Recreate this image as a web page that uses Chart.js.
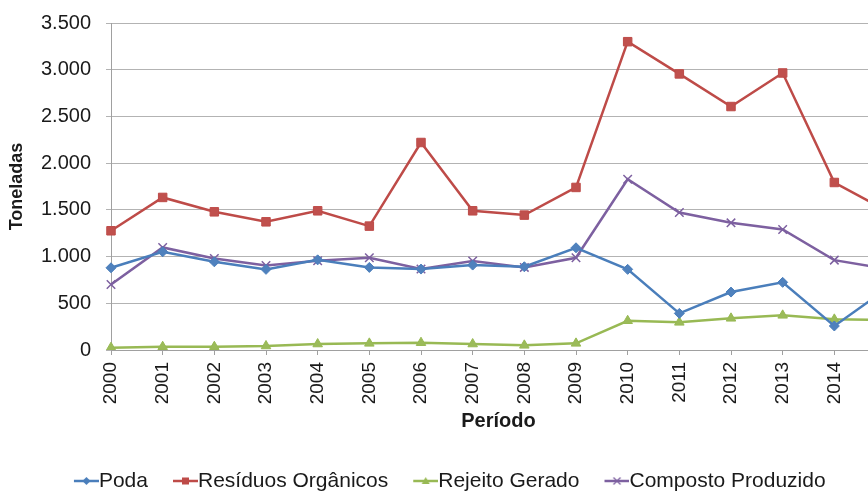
<!DOCTYPE html>
<html>
<head>
<meta charset="utf-8">
<script src="https://cdn.jsdelivr.net/npm/chart.js@4.4.1/dist/chart.umd.min.js"></script>
<style>
  html, body { margin: 0; padding: 0; background: #fff; overflow: hidden; }
  canvas { display: block; }
</style>
</head>
<body>
<canvas id="residuosChart" width="898" height="492"></canvas>
<script>
const anos = ['2000', '2001', '2002', '2003', '2004', '2005', '2006', '2007',
              '2008', '2009', '2010', '2011', '2012', '2013', '2014', '2015'];
const poda      = [880, 1051, 944, 863, 965, 884, 866, 909, 891, 1094, 863, 392, 620, 724, 257, 651];
const residuos  = [1276, 1633, 1479, 1372, 1490, 1326, 2221, 1490, 1444, 1740, 3300, 2955, 2606, 2965, 1793, 1495];
const rejeito   = [25, 35, 35, 43, 64, 71, 78, 64, 50, 71, 313, 296, 339, 371, 328, 321];
const composto  = [702, 1098, 980, 905, 955, 987, 866, 952, 884, 987, 1827, 1472, 1361, 1290, 962, 870];
const yMax = 3500;
const yStep = 500;

Chart.defaults.font.family = '"Liberation Sans", Arial, sans-serif';
Chart.defaults.color = '#1a1a1a';

// small line+marker pictures for the legend, like the spreadsheet legend
function legendIcon(shape, color) {
    const c = document.createElement('canvas');
    c.width = 37;
    c.height = 14;
    const g = c.getContext('2d');
    g.strokeStyle = color;
    g.fillStyle = color;
    g.lineWidth = 2.5;
    g.beginPath();
    g.moveTo(12, 7);
    g.lineTo(37, 7);
    g.stroke();
    const x = 24.5, y = 7;
    g.beginPath();
    if (shape === 'diamond') {
        g.moveTo(x, y - 4); g.lineTo(x + 4, y); g.lineTo(x, y + 4); g.lineTo(x - 4, y);
        g.closePath(); g.fill();
    } else if (shape === 'square') {
        g.fillRect(x - 3.5, y - 3.5, 7, 7);
    } else if (shape === 'triangle') {
        g.moveTo(x, y - 4); g.lineTo(x + 4, y + 3); g.lineTo(x - 4, y + 3);
        g.closePath(); g.fill();
    } else {
        g.lineWidth = 1.2;
        g.moveTo(x - 3.5, y - 3.5); g.lineTo(x + 3.5, y + 3.5);
        g.moveTo(x + 3.5, y - 3.5); g.lineTo(x - 3.5, y + 3.5);
        g.stroke();
    }
    return c;
}

const icons = [
    legendIcon('diamond', '#4A7EBB'),
    legendIcon('square', '#BE4B48'),
    legendIcon('triangle', '#98B954'),
    legendIcon('cross', '#7D60A0')
];

function noPadding(scale) {
    scale.paddingTop = 0;
    scale.paddingBottom = 0;
    scale.paddingLeft = 0;
    scale.paddingRight = 0;
}

const ctx = document.getElementById('residuosChart').getContext('2d');
new Chart(ctx, {
    type: 'line',
    data: {
        labels: anos,
        datasets: [{
            label: 'Poda',
            data: poda,
            borderColor: '#4A7EBB',
            backgroundColor: '#4F81BD',
            pointStyle: 'rectRot',
            pointRadius: 5,
            pointBorderWidth: 1,
            yAxisID: 'y'
        }, {
            label: 'Resíduos Orgânicos',
            data: residuos,
            borderColor: '#BE4B48',
            backgroundColor: '#C0504D',
            pointStyle: 'rect',
            pointRadius: 6,
            pointBorderWidth: 1,
            yAxisID: 'y'
        }, {
            label: 'Rejeito Gerado',
            data: rejeito,
            borderColor: '#98B954',
            backgroundColor: '#9BBB59',
            pointStyle: 'triangle',
            pointRadius: 5.5,
            pointBorderWidth: 1,
            yAxisID: 'y'
        }, {
            label: 'Composto Produzido',
            data: composto,
            borderColor: '#7D60A0',
            backgroundColor: '#8064A2',
            pointStyle: 'crossRot',
            pointRadius: 6,
            pointBorderWidth: 1.5,
            yAxisID: 'y'
        }]
    },
    options: {
        responsive: false,
        animation: false,
        layout: { padding: { top: 23, left: 0, right: 0, bottom: 0 } },
        elements: {
            line: { borderWidth: 2.5, tension: 0 }
        },
        plugins: {
            tooltip: { enabled: false },
            legend: {
                position: 'bottom',
                maxHeight: 45,
                labels: {
                    usePointStyle: true,
                    pointStyleWidth: 16,
                    padding: 23.5,
                    font: { size: 21 },
                    color: '#1a1a1a',
                    generateLabels: (chart) => {
                        const items = Chart.defaults.plugins.legend.labels.generateLabels(chart);
                        items.forEach((it, i) => { it.pointStyle = icons[i]; });
                        return items;
                    }
                }
            }
        },
        scales: {
            x: {
                offset: false,
                grid: {
                    display: true,
                    drawOnChartArea: false,
                    drawTicks: true,
                    tickLength: 5,
                    color: '#a0a0a0'
                },
                border: { display: true, color: '#a0a0a0' },
                ticks: {
                    autoSkip: false,
                    minRotation: 90,
                    maxRotation: 90,
                    padding: 7,
                    font: { size: 19 },
                    color: '#1a1a1a'
                },
                title: {
                    display: true,
                    text: 'Período',
                    font: { size: 20, weight: 'bold' },
                    color: '#1a1a1a',
                    padding: { top: 0, bottom: 14 }
                },
                afterFit: (scale) => {
                    scale.height = 97;
                    noPadding(scale);
                }
            },
            y: {
                min: 0,
                max: yMax,
                grid: {
                    color: '#b3b3b3',
                    tickLength: 5
                },
                border: { display: true, color: '#a0a0a0' },
                ticks: {
                    stepSize: yStep,
                    padding: 15,
                    font: { size: 20 },
                    color: '#1a1a1a',
                    callback: (v) => String(v).replace(/\B(?=(\d{3})+(?!\d))/g, '.')
                },
                title: {
                    display: true,
                    text: 'Toneladas',
                    font: { size: 18, weight: 'bold' },
                    color: '#1a1a1a',
                    padding: { top: 6, bottom: 0 }
                },
                afterFit: (scale) => {
                    scale.width = 111;
                    noPadding(scale);
                }
            },
            // empty right margin so the legend stays centred on the whole chart
            margem: {
                position: 'right',
                display: true,
                grid: { display: false },
                border: { display: false },
                ticks: { display: false },
                afterFit: (scale) => {
                    scale.width = 12;
                    noPadding(scale);
                }
            }
        }
    }
});
</script>
</body>
</html>
